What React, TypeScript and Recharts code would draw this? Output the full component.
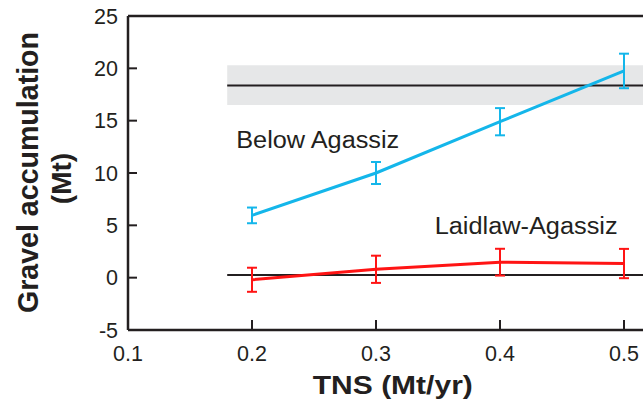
import React from 'react';
import {
  ComposedChart,
  Line,
  XAxis,
  YAxis,
  ErrorBar,
  ReferenceArea,
  ReferenceLine,
  ReferenceDot,
  Label,
} from 'recharts';

// ---- data ----
const tns = [0.2, 0.3, 0.4, 0.5];
const belowAgassiz = [5.95, 10.0, 14.9, 19.75];
const belowAgassizErr = [0.75, 1.05, 1.3, 1.65];
const laidlawAgassiz = [-0.2, 0.8, 1.48, 1.35];
const laidlawAgassizErr = [1.15, 1.3, 1.28, 1.4];

const xTicks = [0.1, 0.2, 0.3, 0.4, 0.5];
const yTicks = [-5, 0, 5, 10, 15, 20, 25];
const xDomain = [0.1, 0.5153];
const yDomain = [-5, 25];

const bandStart = 0.18;
const bandLow = 16.5;
const bandHigh = 20.3;
const bandMean = 18.35;
const zeroLineValue = 0.25;

const belowLabelPos = { x: 0.1873, y: 12.36 };
const laidlawLabelPos = { x: 0.3473, y: 4.17 };

const table = tns.map((t, i) => ({
  tns: t,
  below: belowAgassiz[i],
  belowErr: belowAgassizErr[i],
  laidlaw: laidlawAgassiz[i],
  laidlawErr: laidlawAgassizErr[i],
}));

// ---- styles ----
const INK = '#231f20';
const CYAN = '#14b6ea';
const RED = '#ff1414';
const FONT = '"Liberation Sans", Arial, Helvetica, sans-serif';

const YTick = (props: any) => {
  const { x, y, payload } = props;
  return (
    <g>
      <line x1={x} x2={x + 9} y1={y} y2={y} stroke={INK} strokeWidth={2} />
      <text x={x - 10} y={y + 7.6} textAnchor="end" fontSize={21.5} fontFamily={FONT} fill={INK}>
        {payload.value}
      </text>
    </g>
  );
};

const XTick = (props: any) => {
  const { x, y, payload } = props;
  return (
    <g>
      <line x1={x} x2={x} y1={y} y2={y - 10} stroke={INK} strokeWidth={2} />
      <text x={x} y={y + 31} textAnchor="middle" fontSize={21.5} fontFamily={FONT} fill={INK}>
        {payload.value}
      </text>
    </g>
  );
};

const makeAnnot = (text: string, len: number) => (p: any) => {
  const vb = p.viewBox || {};
  return (
    <text
      x={vb.x}
      y={vb.y}
      fontSize={23.5}
      fontFamily={FONT}
      fill={INK}
      textLength={len}
      lengthAdjust="spacingAndGlyphs"
    >
      {text}
    </text>
  );
};

const YTitle = () => (
  <g>
    <text
      x={38}
      y={172.5}
      transform="rotate(-90, 38, 172.5)"
      textAnchor="middle"
      fontSize={29}
      fontWeight="bold"
      fontFamily={FONT}
      fill={INK}
      textLength={281}
      lengthAdjust="spacingAndGlyphs"
    >
      Gravel accumulation
    </text>
    <text
      x={71}
      y={178.5}
      transform="rotate(-90, 71, 178.5)"
      textAnchor="middle"
      fontSize={28}
      fontWeight="bold"
      fontFamily={FONT}
      fill={INK}
    >
      (Mt)
    </text>
  </g>
);

const XTitle = () => (
  <text
    x={392.8}
    y={394}
    textAnchor="middle"
    fontSize={25}
    fontWeight="bold"
    fontFamily={FONT}
    fill={INK}
    textLength={160}
    lengthAdjust="spacingAndGlyphs"
  >
    TNS (Mt/yr)
  </text>
);

export default function App() {
  return (
    <div style={{ position: 'absolute', left: 0, top: 0, width: 643, height: 404, background: '#fff' }}>
      <ComposedChart
        width={643}
        height={404}
        data={table}
        margin={{ top: 16, right: 0, bottom: 0, left: 0 }}
      >
        <ReferenceArea
          x1={bandStart}
          x2={xDomain[1]}
          y1={bandLow}
          y2={bandHigh}
          fill="#e6e7e8"
          fillOpacity={1}
          stroke="none"
        />
        <ReferenceLine
          segment={[
            { x: bandStart, y: bandMean },
            { x: xDomain[1], y: bandMean },
          ]}
          stroke={INK}
          strokeWidth={2}
        />
        <ReferenceLine
          segment={[
            { x: bandStart, y: zeroLineValue },
            { x: xDomain[1], y: zeroLineValue },
          ]}
          stroke={INK}
          strokeWidth={2}
        />
        <ReferenceLine y={yDomain[1]} stroke={INK} strokeWidth={2.5} />
        <XAxis
          dataKey="tns"
          type="number"
          domain={xDomain}
          ticks={xTicks}
          allowDataOverflow
          height={74}
          tickSize={0}
          tickMargin={0}
          tickLine={false}
          axisLine={{ stroke: INK, strokeWidth: 2.5 }}
          tick={<XTick />}
          interval={0}
        >
          <Label content={<XTitle />} />
        </XAxis>
        <YAxis
          type="number"
          domain={yDomain}
          ticks={yTicks}
          allowDataOverflow
          width={128}
          tickSize={0}
          tickMargin={0}
          tickLine={false}
          axisLine={{ stroke: INK, strokeWidth: 2.5 }}
          tick={<YTick />}
          interval={0}
        >
          <Label content={<YTitle />} />
        </YAxis>
        <Line
          type="linear"
          dataKey="below"
          stroke={CYAN}
          strokeWidth={3}
          dot={false}
          isAnimationActive={false}
        >
          <ErrorBar dataKey="belowErr" width={5} stroke={CYAN} strokeWidth={2} direction="y" isAnimationActive={false} />
        </Line>
        <Line
          type="linear"
          dataKey="laidlaw"
          stroke={RED}
          strokeWidth={3}
          dot={false}
          isAnimationActive={false}
        >
          <ErrorBar dataKey="laidlawErr" width={5} stroke={RED} strokeWidth={2} direction="y" isAnimationActive={false} />
        </Line>
        <ReferenceDot
          x={belowLabelPos.x}
          y={belowLabelPos.y}
          r={0}
          fill="none"
          stroke="none"
          label={makeAnnot('Below Agassiz', 163)}
        />
        <ReferenceDot
          x={laidlawLabelPos.x}
          y={laidlawLabelPos.y}
          r={0}
          fill="none"
          stroke="none"
          label={makeAnnot('Laidlaw-Agassiz', 183)}
        />
      </ComposedChart>
    </div>
  );
}
